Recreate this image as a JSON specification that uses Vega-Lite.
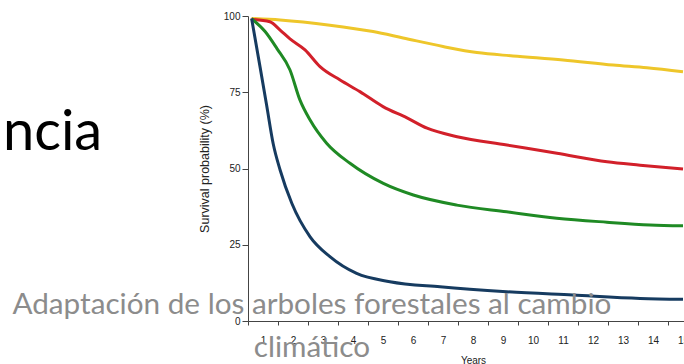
{
  "$schema": "https://vega.github.io/schema/vega-lite/v6.json",
  "width": 436,
  "height": 305,
  "autosize": {"type": "none"},
  "padding": {"left": 248, "top": 16, "right": 0, "bottom": 43},
  "background": "white",
  "config": {"view": {"stroke": null}},
  "datasets": {
    "curves": [
      {"t": 0.12, "s": 99.2, "g": "yellow"},
      {"t": 1.07, "s": 98.7, "g": "yellow"},
      {"t": 2.73, "s": 97.0, "g": "yellow"},
      {"t": 4.17, "s": 94.9, "g": "yellow"},
      {"t": 5.17, "s": 92.8, "g": "yellow"},
      {"t": 6.5, "s": 90.0, "g": "yellow"},
      {"t": 7.63, "s": 88.0, "g": "yellow"},
      {"t": 8.83, "s": 86.9, "g": "yellow"},
      {"t": 10.5, "s": 85.6, "g": "yellow"},
      {"t": 12.17, "s": 83.9, "g": "yellow"},
      {"t": 13.3, "s": 83.0, "g": "yellow"},
      {"t": 14.5, "s": 81.7, "g": "yellow"},
      {"t": 0.12, "s": 98.9, "g": "red"},
      {"t": 0.73, "s": 98.1, "g": "red"},
      {"t": 1.07, "s": 95.4, "g": "red"},
      {"t": 1.4, "s": 92.5, "g": "red"},
      {"t": 1.9, "s": 88.9, "g": "red"},
      {"t": 2.4, "s": 83.4, "g": "red"},
      {"t": 3.07, "s": 79.0, "g": "red"},
      {"t": 3.73, "s": 75.2, "g": "red"},
      {"t": 4.5, "s": 70.3, "g": "red"},
      {"t": 5.3, "s": 66.6, "g": "red"},
      {"t": 5.97, "s": 63.2, "g": "red"},
      {"t": 6.97, "s": 60.4, "g": "red"},
      {"t": 8.63, "s": 57.7, "g": "red"},
      {"t": 10.3, "s": 55.0, "g": "red"},
      {"t": 11.97, "s": 52.2, "g": "red"},
      {"t": 13.07, "s": 51.1, "g": "red"},
      {"t": 14.5, "s": 49.8, "g": "red"},
      {"t": 0.12, "s": 99.1, "g": "green"},
      {"t": 0.57, "s": 94.9, "g": "green"},
      {"t": 0.96, "s": 89.4, "g": "green"},
      {"t": 1.4, "s": 82.3, "g": "green"},
      {"t": 1.73, "s": 72.5, "g": "green"},
      {"t": 2.07, "s": 65.9, "g": "green"},
      {"t": 2.62, "s": 58.3, "g": "green"},
      {"t": 3.4, "s": 51.7, "g": "green"},
      {"t": 4.51, "s": 45.1, "g": "green"},
      {"t": 5.51, "s": 41.3, "g": "green"},
      {"t": 6.96, "s": 38.0, "g": "green"},
      {"t": 8.62, "s": 35.8, "g": "green"},
      {"t": 10.29, "s": 33.7, "g": "green"},
      {"t": 11.96, "s": 32.4, "g": "green"},
      {"t": 13.4, "s": 31.5, "g": "green"},
      {"t": 14.5, "s": 31.2, "g": "green"},
      {"t": 0.12, "s": 99.2, "g": "blue"},
      {"t": 0.4, "s": 83.4, "g": "blue"},
      {"t": 0.62, "s": 70.8, "g": "blue"},
      {"t": 0.84, "s": 58.1, "g": "blue"},
      {"t": 1.07, "s": 49.5, "g": "blue"},
      {"t": 1.46, "s": 38.6, "g": "blue"},
      {"t": 2.07, "s": 27.6, "g": "blue"},
      {"t": 2.73, "s": 21.1, "g": "blue"},
      {"t": 3.62, "s": 15.6, "g": "blue"},
      {"t": 4.73, "s": 12.9, "g": "blue"},
      {"t": 6.4, "s": 11.2, "g": "blue"},
      {"t": 8.62, "s": 9.6, "g": "blue"},
      {"t": 10.83, "s": 8.5, "g": "blue"},
      {"t": 13.07, "s": 7.4, "g": "blue"},
      {"t": 14.5, "s": 7.1, "g": "blue"}
    ],
    "notes": [
      {"t": -8.17, "s": 56.1, "label": "ncia", "kind": "head"},
      {"t": 2.13, "s": 2.3, "label": "Adaptación de los arboles forestales al cambio\nclimático", "kind": "caption"}
    ]
  },
  "encoding": {
    "x": {
      "field": "t", "type": "quantitative",
      "scale": {"domain": [0, 14.533], "nice": false, "zero": false},
      "axis": {
        "title": "Years",
        "values": [0, 1, 2, 3, 4, 5, 6, 7, 8, 9, 10, 11, 12, 13, 14],
        "labelExpr": "'' + (datum.value + 1)",
        "labelOffset": 15,
        "labelFlush": false,
        "labelOverlap": false,
        "labelBound": false,
        "labelFont": "Liberation Sans",
        "labelFontSize": 10,
        "labelColor": "#222",
        "labelPadding": 10,
        "tickSize": 4,
        "tickColor": "#444",
        "domainColor": "#444",
        "grid": false,
        "titleFont": "Liberation Sans",
        "titleFontSize": 10,
        "titleFontWeight": "normal",
        "titleColor": "#222",
        "titlePadding": 10,
        "titleX": 225
      }
    },
    "y": {
      "field": "s", "type": "quantitative",
      "scale": {"domain": [0, 100], "nice": false},
      "axis": {
        "title": "Survival probability (%)",
        "values": [0, 25, 50, 75, 100],
        "labelFont": "Liberation Sans",
        "labelFontSize": 10,
        "labelColor": "#222",
        "labelPadding": 2,
        "tickSize": 6,
        "tickColor": "#444",
        "domainColor": "#444",
        "grid": false,
        "titleFont": "Liberation Sans",
        "titleFontSize": 12.5,
        "titleFontWeight": "normal",
        "titleColor": "#222",
        "titlePadding": 12
      }
    }
  },
  "layer": [
    {
      "data": {"name": "curves"},
      "mark": {"type": "line", "strokeWidth": 3, "interpolate": "monotone", "clip": true},
      "encoding": {
        "color": {
          "field": "g", "type": "nominal",
          "scale": {"domain": ["yellow", "red", "green", "blue"], "range": ["#EEC62A", "#D2202A", "#1F8A24", "#163B60"]},
          "legend": null
        }
      }
    },
    {
      "data": {"name": "notes"},
      "transform": [{"filter": "datum.kind == 'head'"}],
      "mark": {"type": "text", "align": "left", "baseline": "alphabetic", "font": "Lato", "fontSize": 56, "color": "#000"},
      "encoding": {
        "text": {"field": "label"}
      }
    },
    {
      "data": {"name": "notes"},
      "transform": [{"filter": "datum.kind == 'caption'"}],
      "mark": {"type": "text", "align": "center", "baseline": "alphabetic", "font": "Lato", "fontSize": 29.7, "color": "#8C8C8C", "lineBreak": "\n", "lineHeight": 43},
      "encoding": {
        "text": {"field": "label"}
      }
    }
  ]
}
